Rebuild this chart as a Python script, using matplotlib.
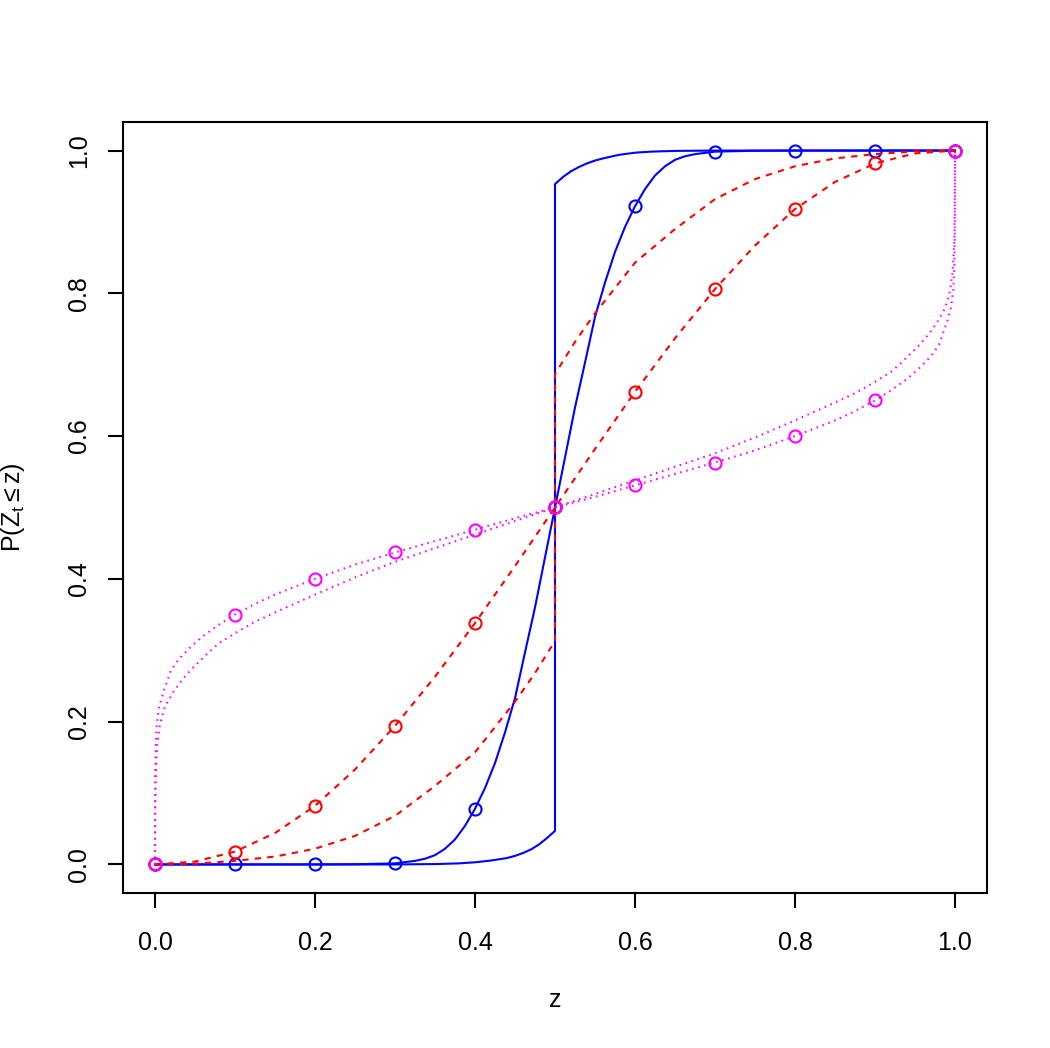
import matplotlib
matplotlib.use('Agg')
import matplotlib.pyplot as plt

plt.rcParams['font.family'] = ['Liberation Sans', 'DejaVu Sans']
plt.rcParams['mathtext.fontset'] = 'custom'
plt.rcParams['mathtext.rm'] = 'Liberation Sans'
plt.rcParams['mathtext.it'] = 'Liberation Sans:italic'

# points plotted as circles (z = 0, 0.1, ..., 1)
pts_z = [0.0, 0.1, 0.2, 0.3, 0.4, 0.5, 0.6, 0.7, 0.8, 0.9, 1.0]
blue_pts = [0.0, 0.0, 0.0, 0.0015, 0.078, 0.5, 0.922, 0.9985, 1.0, 1.0, 1.0]
red_pts = [0.0, 0.018, 0.082, 0.194, 0.338, 0.5, 0.662, 0.806, 0.918, 0.982, 1.0]
magenta_pts = [0.0, 0.35, 0.40, 0.437, 0.469, 0.5, 0.531, 0.563, 0.60, 0.65, 1.0]

# blue, smooth curve through the circles
blue_z = [0.0, 0.1, 0.2, 0.25, 0.3, 0.325, 0.3375, 0.35, 0.3625, 0.375, 0.3875, 0.4,
          0.4125, 0.425, 0.4375, 0.45, 0.4625, 0.475, 0.4875, 0.5, 0.5125, 0.525,
          0.5375, 0.55, 0.5625, 0.575, 0.5875, 0.6, 0.6125, 0.625, 0.6375, 0.65,
          0.6625, 0.675, 0.7, 0.75, 0.8, 0.9, 1.0]
blue_y = [0.0, 0.0, 0.0, 0.0003, 0.0015, 0.005, 0.008, 0.013, 0.022, 0.035, 0.054, 0.078,
          0.107, 0.142, 0.185, 0.233, 0.297, 0.36, 0.43, 0.5, 0.57, 0.64,
          0.703, 0.767, 0.815, 0.858, 0.893, 0.922, 0.946, 0.965, 0.978, 0.987,
          0.992, 0.995, 0.9985, 0.9997, 1.0, 1.0, 1.0]

# blue, curve with a jump at 0.5
blue2_z = [0.0, 0.1, 0.2, 0.3, 0.35, 0.38, 0.4, 0.42, 0.44, 0.45, 0.46, 0.47, 0.48, 0.49, 0.5,
           0.5, 0.51, 0.52, 0.53, 0.54, 0.55, 0.56, 0.58, 0.6, 0.62, 0.65, 0.7, 0.8, 0.9, 1.0]
blue2_y = [0.0, 0.0, 0.0, 0.0, 0.0005, 0.0015, 0.003, 0.0055, 0.009, 0.012, 0.016, 0.021, 0.028, 0.037, 0.047,
           0.953, 0.963, 0.971, 0.977, 0.982, 0.986, 0.989, 0.994, 0.997, 0.9985, 0.9995, 1.0, 1.0, 1.0, 1.0]

# red, smooth curve through the circles
red_z = [0.0, 0.05, 0.1, 0.15, 0.2, 0.25, 0.3, 0.35, 0.4, 0.45, 0.5,
         0.55, 0.6, 0.65, 0.7, 0.75, 0.8, 0.85, 0.9, 0.95, 1.0]
red_y = [0.0, 0.004, 0.018, 0.044, 0.082, 0.133, 0.194, 0.263, 0.338, 0.418, 0.5,
         0.582, 0.662, 0.737, 0.806, 0.867, 0.918, 0.956, 0.982, 0.996, 1.0]

# red, curve with a jump at 0.5
red2_z = [0.0, 0.05, 0.1, 0.15, 0.2, 0.25, 0.3, 0.35, 0.4, 0.45, 0.475, 0.5,
          0.5, 0.525, 0.55, 0.6, 0.65, 0.7, 0.75, 0.8, 0.85, 0.9, 0.95, 1.0]
red2_y = [0.0, 0.001, 0.005, 0.011, 0.022, 0.04, 0.068, 0.11, 0.157, 0.228, 0.268, 0.313,
          0.687, 0.732, 0.772, 0.843, 0.89, 0.932, 0.96, 0.978, 0.989, 0.995, 0.999, 1.0]

# magenta, smooth curve through the circles
magenta_z = [0.0, 0.0002, 0.0008, 0.002, 0.005, 0.01, 0.02, 0.03, 0.045, 0.06, 0.08, 0.1,
             0.125, 0.15, 0.2, 0.25, 0.3, 0.35, 0.4, 0.45, 0.5,
             0.55, 0.6, 0.65, 0.7, 0.75, 0.8, 0.85, 0.875, 0.9, 0.92, 0.94, 0.955,
             0.97, 0.98, 0.99, 0.995, 0.998, 0.9992, 0.9998, 1.0]
magenta_y = [0.0, 0.12, 0.16, 0.195, 0.22, 0.24, 0.272, 0.288, 0.305, 0.32, 0.336, 0.35,
             0.365, 0.378, 0.40, 0.42, 0.437, 0.453, 0.469, 0.485, 0.5,
             0.515, 0.531, 0.547, 0.563, 0.58, 0.60, 0.622, 0.635, 0.65, 0.664, 0.68, 0.695,
             0.712, 0.728, 0.76, 0.78, 0.805, 0.84, 0.88, 1.0]

# magenta, second curve (no circles)
magenta2_z = [0.0, 0.0003, 0.001, 0.003, 0.006, 0.012, 0.023, 0.035, 0.045, 0.065, 0.08, 0.1,
              0.125, 0.15, 0.2, 0.25, 0.3, 0.35, 0.4, 0.45, 0.5,
              0.55, 0.6, 0.65, 0.7, 0.75, 0.8, 0.85, 0.875, 0.9, 0.92, 0.935, 0.955,
              0.965, 0.977, 0.988, 0.994, 0.997, 0.999, 0.9997, 1.0]
magenta2_y = [0.0, 0.08, 0.13, 0.17, 0.195, 0.22, 0.242, 0.26, 0.273, 0.295, 0.31, 0.324,
              0.34, 0.353, 0.378, 0.402, 0.424, 0.443, 0.462, 0.481, 0.5,
              0.519, 0.538, 0.557, 0.576, 0.598, 0.622, 0.647, 0.66, 0.676, 0.69, 0.705, 0.727,
              0.74, 0.758, 0.78, 0.805, 0.83, 0.87, 0.92, 1.0]

BLUE, RED, MAG = '#0000FF', '#FF0000', '#FF00FF'
dash = (3.0, 3.0)
dot = (0.75, 2.25)

fig = plt.figure(figsize=(7.0, 1048 / 150), dpi=150)
ax = fig.add_axes([123 / 1050, 1 - 893 / 1048, 864 / 1050, 771 / 1048])

lw = 1.0
ax.plot(blue_z, blue_y, color=BLUE, lw=lw)
ax.plot(blue2_z, blue2_y, color=BLUE, lw=lw)
ax.plot(pts_z, blue_pts, 'o', mfc='none', mec=BLUE, ms=5.8, mew=1.0)

l1, = ax.plot(red_z, red_y, color=RED, lw=lw)
l2, = ax.plot(red2_z, red2_y, color=RED, lw=lw)
l1.set_dashes(dash)
l2.set_dashes(dash)
ax.plot(pts_z, red_pts, 'o', mfc='none', mec=RED, ms=5.8, mew=1.0)

l3, = ax.plot(magenta_z, magenta_y, color=MAG, lw=lw)
l4, = ax.plot(magenta2_z, magenta2_y, color=MAG, lw=lw)
l3.set_dashes(dot)
l4.set_dashes(dot)
ax.plot(pts_z, magenta_pts, 'o', mfc='none', mec=MAG, ms=5.8, mew=1.0)

ax.set_xlim(-0.04, 1.04)
ax.set_ylim(-0.04, 1.04)
ticks = [0.0, 0.2, 0.4, 0.6, 0.8, 1.0]
ax.set_xticks(ticks)
ax.set_yticks(ticks)
ax.set_xticklabels(['%.1f' % t for t in ticks])
ax.set_yticklabels(['%.1f' % t for t in ticks], rotation=90, va='center')
ax.tick_params(direction='out', length=7.2, width=1.0, labelsize=12, colors='black')
ax.tick_params(axis='x', pad=11)
ax.tick_params(axis='y', pad=8)
for s in ax.spines.values():
    s.set_linewidth(1.0)

ax.set_xlabel('z', fontsize=12)
ax.xaxis.label.set_va('baseline')
ax.xaxis.set_label_coords(0.5, (893 - 1007) / 771)
ax.set_ylabel(r'P(Z$_{\mathrm{t}}\leq$z)', fontsize=12)
ax.yaxis.set_label_coords((27 - 123) / 864, 0.5)

fig.savefig('out.png', dpi=150)
